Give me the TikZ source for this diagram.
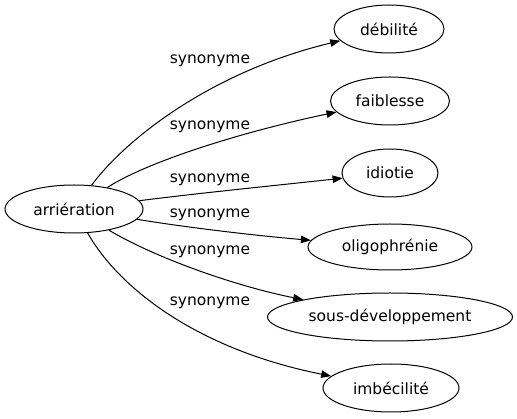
\documentclass[tikz,border=0pt]{standalone}
\usepackage{fontspec}
\setmainfont{DejaVu Sans}
\usetikzlibrary{shapes.geometric,arrows.meta}
\tikzset{
  word/.style={draw, ellipse, line width=1pt, inner sep=0pt, font=\fontsize{15.5}{18}\selectfont},
  rel/.style={font=\fontsize{15.5}{18}\selectfont, inner sep=0pt},
  syn/.style={line width=1pt, -{Triangle[length=10pt,width=7.5pt]}},
}
\begin{document}
\begin{tikzpicture}[x=1pt,y=-1pt]
\useasboundingbox (0,0) rectangle (517,419);
\node[word, minimum width=138pt, minimum height=48pt] (a) at (74,209) {arriération};
\node[word, minimum width=110pt, minimum height=48pt] (b1) at (389,29) {débilité};
\node[word, minimum width=119pt, minimum height=48pt] (b2) at (390,101) {faiblesse};
\node[word, minimum width=96pt, minimum height=48pt] (b3) at (390,173) {idiotie};
\node[word, minimum width=164pt, minimum height=46pt] (b4) at (390,247) {oligophrénie};
\node[word, minimum width=245pt, minimum height=48pt] (b5) at (390,317) {sous-développement};
\node[word, minimum width=136pt, minimum height=48pt] (b6) at (391,388) {imbécilité};
\node[rel] (l1) at (210,61) {synonyme};
\node[rel] (l2) at (210,127) {synonyme};
\node[rel] (l3) at (210,180) {synonyme};
\node[rel] (l4) at (210,215) {synonyme};
\node[rel] (l5) at (210,252) {synonyme};
\node[rel] (l6) at (210,303) {synonyme};
\draw[syn] (a) .. controls (125,140) and (210,72) .. (b1);
\draw[syn] (a) .. controls (150,160) and (250,130) .. (b2);
\draw[syn] (a) .. controls (200,193) and (280,185) .. (b3);
\draw[syn] (a) .. controls (190,228) and (260,236) .. (b4);
\draw[syn] (a) .. controls (150,255) and (230,285) .. (b5);
\draw[syn] (a) .. controls (120,290) and (200,350) .. (b6);
\end{tikzpicture}
\end{document}
